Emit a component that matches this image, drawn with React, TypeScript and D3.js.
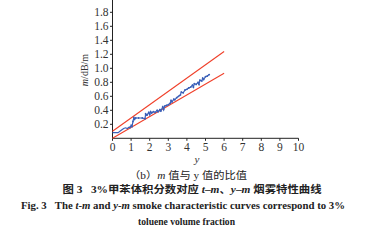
import React from "react";
import * as d3 from "d3";

const yVals = [0, 0.3, 0.45, 0.6, 0.7, 0.8, 0.9, 0.95, 1.0, 1.05, 1.1, 1.15, 1.18, 1.25, 1.4, 1.6, 1.75, 1.78, 1.85, 1.95, 2.0, 2.05, 2.1, 2.2, 2.3, 2.4, 2.45, 2.55, 2.6, 2.7, 2.75, 2.8, 2.9, 3.0, 3.1, 3.15, 3.2, 3.3, 3.35, 3.45, 3.55, 3.65, 3.7, 3.8, 3.9, 4.0, 4.1, 4.2, 4.3, 4.35, 4.4, 4.5, 4.6, 4.65, 4.7, 4.8, 4.85, 4.9, 5.0, 5.1, 5.2];
const mVals = [0.08, 0.08, 0.11, 0.14, 0.15, 0.14, 0.16, 0.15, 0.19, 0.17, 0.24, 0.30, 0.27, 0.29, 0.29, 0.29, 0.28, 0.35, 0.33, 0.37, 0.34, 0.38, 0.36, 0.38, 0.37, 0.40, 0.38, 0.41, 0.39, 0.45, 0.41, 0.46, 0.47, 0.48, 0.50, 0.54, 0.52, 0.56, 0.55, 0.58, 0.60, 0.62, 0.66, 0.65, 0.69, 0.70, 0.72, 0.73, 0.76, 0.73, 0.78, 0.77, 0.80, 0.77, 0.83, 0.82, 0.86, 0.84, 0.88, 0.89, 0.91];
const upperLine = [[0, 0.1], [6, 1.24]];
const lowerLine = [[0, 0.0], [6, 0.93]];
const xTicks = [0, 1, 2, 3, 4, 5, 6, 7, 8, 9, 10];
const yTicks = [0.2, 0.4, 0.6, 0.8, 1.0, 1.2, 1.4, 1.6, 1.8];

const serif = "'Liberation Serif', 'Times New Roman', 'Noto Sans CJK SC', serif";

export default function App() {
  const x = d3.scaleLinear().domain([0, 10]).range([112.5, 298.5]);
  const y = d3.scaleLinear().domain([0, 1.8]).range([138.3, 12.3]);
  const line = d3.line<number[]>().x((d) => x(d[0])).y((d) => y(d[1]));
  const data = yVals.map((v, i) => [v, mVals[i]]);
  const axisColor = "#222";
  return (
    <div style={{ position: "absolute", left: 0, top: 0 }}>
      <svg width={384} height={242} style={{ display: "block", background: "#fff" }}>
        {/* axes */}
        <line x1={x(0)} x2={x(0)} y1={0} y2={y(0)} stroke={axisColor} strokeWidth={1} />
        <line x1={x(0)} x2={x(10)} y1={y(0)} y2={y(0)} stroke={axisColor} strokeWidth={1} />
        {yTicks.map((t) => (
          <g key={"y" + t}>
            <line x1={x(0) - 2.5} x2={x(0)} y1={y(t)} y2={y(t)} stroke={axisColor} />
            <text x={x(0) - 4} y={y(t)} dy="0.35em" textAnchor="end" fontSize={11.5} fontFamily={serif} fill="#333">
              {t.toFixed(1)}
            </text>
          </g>
        ))}
        {xTicks.map((t) => (
          <g key={"x" + t}>
            <line x1={x(t)} x2={x(t)} y1={y(0)} y2={y(0) + 2.5} stroke={axisColor} />
            <text x={x(t)} y={151} textAnchor="middle" fontSize={11.5} fontFamily={serif} fill="#333">
              {t}
            </text>
          </g>
        ))}
        <text x={197} y={163} textAnchor="middle" fontSize={11} fontStyle="italic" fontFamily={serif} fill="#333">y</text>
        <text transform="translate(88,70) rotate(-90)" textAnchor="middle" fontSize={10} fontFamily={serif} fill="#333">
          <tspan fontStyle="italic">m</tspan>/dB/m
        </text>
        {/* red bounds */}
        <path d={line(upperLine as number[][]) || ""} fill="none" stroke="#f0402a" strokeWidth={1.1} />
        <path d={line(lowerLine as number[][]) || ""} fill="none" stroke="#f0402a" strokeWidth={1.1} />
        {/* data */}
        <path d={line(data) || ""} fill="none" stroke="#3a5fb8" strokeWidth={1.2} />
        {data.filter((_, i) => i > 8).map((d, i) => (
          <circle key={i} cx={x(d[0])} cy={y(d[1])} r={0.9} fill="#3a5fb8" />
        ))}
        {/* captions */}
        <text x={188} y={179} textAnchor="middle" fontSize={10} fontFamily={serif} fill="#222" textLength={118} lengthAdjust="spacingAndGlyphs">
          （b）<tspan fontStyle="italic">m</tspan> 值与 y 值的比值
        </text>
        <text x={192} y={193} textAnchor="middle" fontSize={10} fontWeight="bold" fontFamily={serif} fill="#222" textLength={259} lengthAdjust="spacingAndGlyphs">
          图 3{"\u00a0\u00a0\u00a0"}3%甲苯体积分数对应 <tspan fontStyle="italic">t</tspan>–<tspan fontStyle="italic">m</tspan>、<tspan fontStyle="italic">y</tspan>–<tspan fontStyle="italic">m</tspan> 烟雾特性曲线
        </text>
        <text x={183} y={208.5} textAnchor="middle" fontSize={10} fontWeight="bold" fontFamily={serif} fill="#222" textLength={324} lengthAdjust="spacingAndGlyphs">
          Fig. 3{"\u00a0\u00a0\u00a0"}The <tspan fontStyle="italic">t</tspan>-<tspan fontStyle="italic">m</tspan> and <tspan fontStyle="italic">y</tspan>-<tspan fontStyle="italic">m</tspan> smoke characteristic curves correspond to 3%
        </text>
        <text x={186.5} y={224.5} textAnchor="middle" fontSize={10} fontWeight="bold" fontFamily={serif} fill="#222" textLength={97} lengthAdjust="spacingAndGlyphs">
          toluene volume fraction
        </text>
      </svg>
    </div>
  );
}
